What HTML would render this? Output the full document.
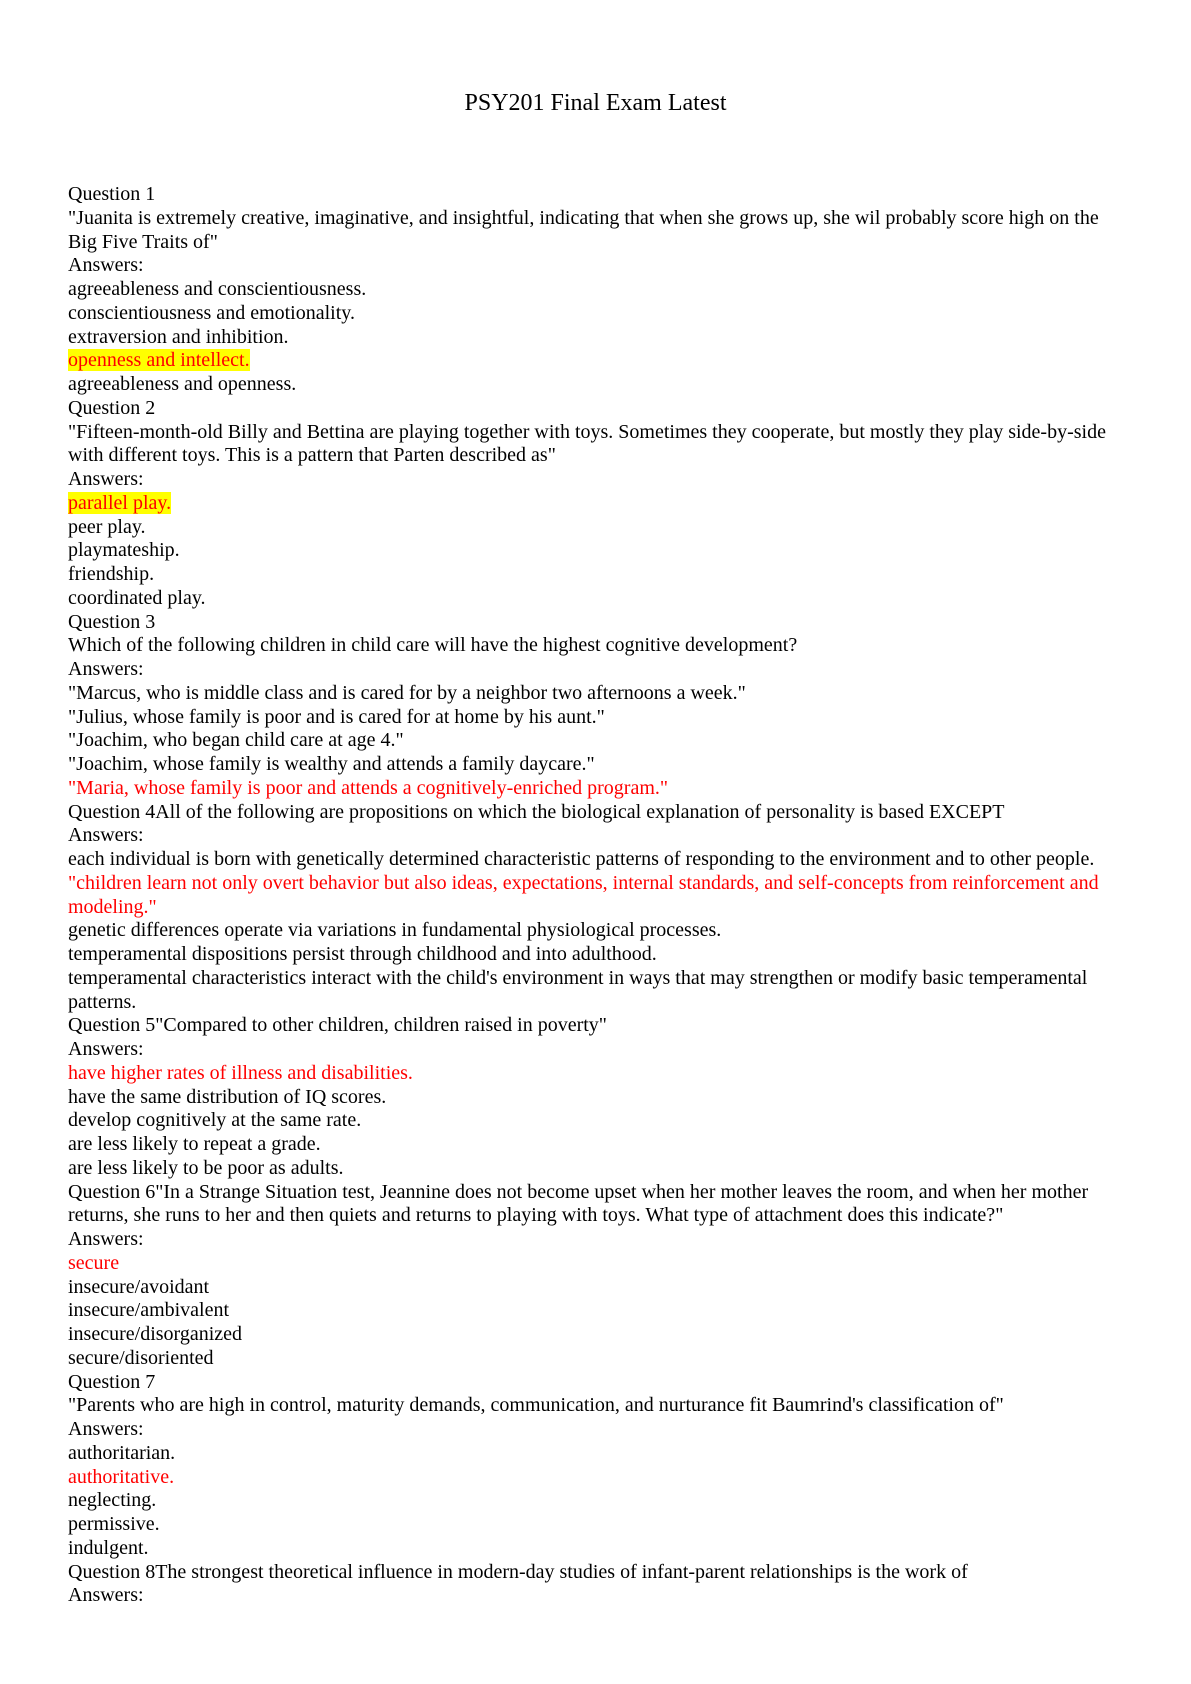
<!DOCTYPE html>
<html><head><meta charset="utf-8"><style>
html,body{margin:0;padding:0;background:#fff;}
body{width:1191px;height:1684px;position:relative;font-family:"Liberation Serif",serif;color:#000;}
.t{position:absolute;top:90px;left:0;width:1191px;text-align:center;font-size:24px;line-height:26px;}
.c{position:absolute;left:68px;top:183px;width:1100px;font-size:20px;line-height:23.75px;}
.c div{white-space:nowrap;height:23.75px;}
.r{color:#f00;}
.h{background:#ff0;color:#f00;}
</style></head><body>
<div class="t">PSY201 Final Exam Latest</div>
<div class="c">
<div>Question 1</div>
<div>"Juanita is extremely creative, imaginative, and insightful, indicating that when she grows up, she wil probably score high on the</div>
<div>Big Five Traits of"</div>
<div>Answers:</div>
<div>agreeableness and conscientiousness.</div>
<div>conscientiousness and emotionality.</div>
<div>extraversion and inhibition.</div>
<div><span class="h">openness and intellect.</span></div>
<div>agreeableness and openness.</div>
<div>Question 2</div>
<div>"Fifteen-month-old Billy and Bettina are playing together with toys. Sometimes they cooperate, but mostly they play side-by-side</div>
<div>with different toys. This is a pattern that Parten described as"</div>
<div>Answers:</div>
<div><span class="h">parallel play.</span></div>
<div>peer play.</div>
<div>playmateship.</div>
<div>friendship.</div>
<div>coordinated play.</div>
<div>Question 3</div>
<div>Which of the following children in child care will have the highest cognitive development?</div>
<div>Answers:</div>
<div>"Marcus, who is middle class and is cared for by a neighbor two afternoons a week."</div>
<div>"Julius, whose family is poor and is cared for at home by his aunt."</div>
<div>"Joachim, who began child care at age 4."</div>
<div>"Joachim, whose family is wealthy and attends a family daycare."</div>
<div class="r">"Maria, whose family is poor and attends a cognitively-enriched program."</div>
<div>Question 4All of the following are propositions on which the biological explanation of personality is based EXCEPT</div>
<div>Answers:</div>
<div>each individual is born with genetically determined characteristic patterns of responding to the environment and to other people.</div>
<div class="r">"children learn not only overt behavior but also ideas, expectations, internal standards, and self-concepts from reinforcement and</div>
<div class="r">modeling."</div>
<div>genetic differences operate via variations in fundamental physiological processes.</div>
<div>temperamental dispositions persist through childhood and into adulthood.</div>
<div>temperamental characteristics interact with the child's environment in ways that may strengthen or modify basic temperamental</div>
<div>patterns.</div>
<div>Question 5"Compared to other children, children raised in poverty"</div>
<div>Answers:</div>
<div class="r">have higher rates of illness and disabilities.</div>
<div>have the same distribution of IQ scores.</div>
<div>develop cognitively at the same rate.</div>
<div>are less likely to repeat a grade.</div>
<div>are less likely to be poor as adults.</div>
<div>Question 6"In a Strange Situation test, Jeannine does not become upset when her mother leaves the room, and when her mother</div>
<div>returns, she runs to her and then quiets and returns to playing with toys. What type of attachment does this indicate?"</div>
<div>Answers:</div>
<div class="r">secure</div>
<div>insecure/avoidant</div>
<div>insecure/ambivalent</div>
<div>insecure/disorganized</div>
<div>secure/disoriented</div>
<div>Question 7</div>
<div>"Parents who are high in control, maturity demands, communication, and nurturance fit Baumrind's classification of"</div>
<div>Answers:</div>
<div>authoritarian.</div>
<div class="r">authoritative.</div>
<div>neglecting.</div>
<div>permissive.</div>
<div>indulgent.</div>
<div>Question 8The strongest theoretical influence in modern-day studies of infant-parent relationships is the work of</div>
<div>Answers:</div>
</div>
</body></html>
